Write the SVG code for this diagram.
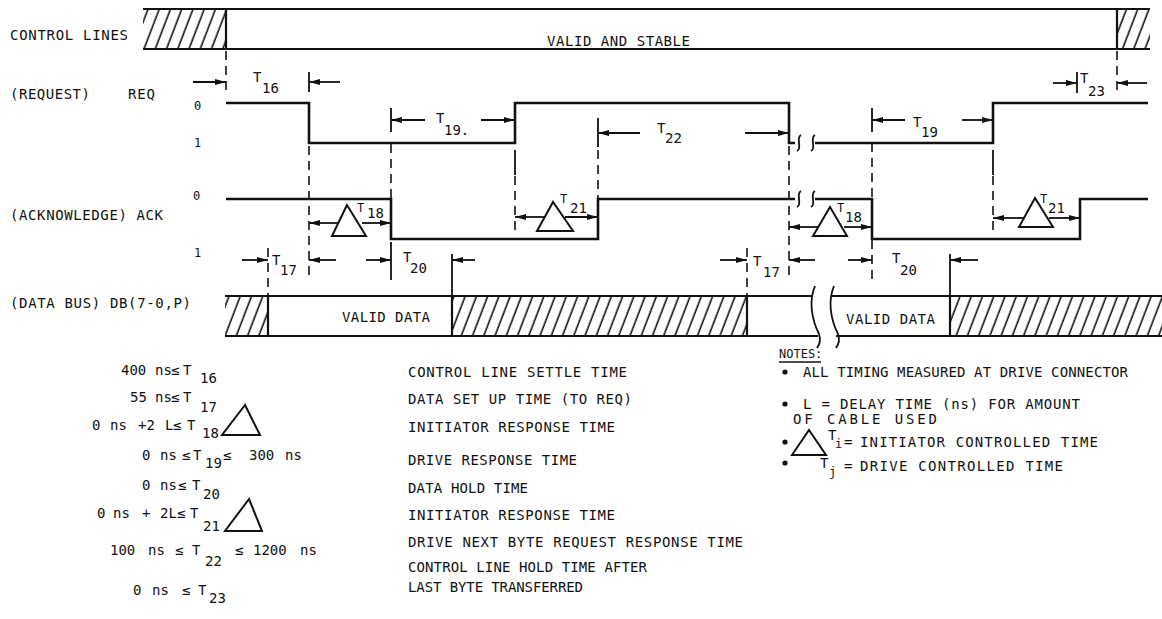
<svg xmlns="http://www.w3.org/2000/svg" width="1162" height="619" viewBox="0 0 1162 619">
<style>
text{font-family:"DejaVu Sans Mono","Liberation Mono",monospace;font-size:14px;fill:#111}
.sm{font-size:12px}
.w{fill:none;stroke:#111;stroke-width:2.6;stroke-linejoin:miter}
.bar{fill:none;stroke:#111;stroke-width:2.2}
.d{fill:none;stroke:#111;stroke-width:1.6;stroke-dasharray:9 6}
.t{fill:none;stroke:#111;stroke-width:1.8}
.a{fill:none;stroke:#111;stroke-width:1.8;marker-end:url(#ah)}
.tri{fill:#fff;stroke:#111;stroke-width:2}
.sq{fill:none;stroke:#111;stroke-width:1.8}
</style>
<defs>
<marker id="ah" markerUnits="userSpaceOnUse" markerWidth="12" markerHeight="8" refX="11" refY="3.5" orient="auto">
<path d="M0,0.5 L11,3.5 L0,6.5 z" fill="#111"/>
</marker>
<pattern id="hatch" patternUnits="userSpaceOnUse" width="10.5" height="10" patternTransform="rotate(21)">
<line x1="5" y1="-2" x2="5" y2="12" stroke="#111" stroke-width="1.6"/>
</pattern>
</defs>
<rect width="1162" height="619" fill="#fff"/>

<g id="control-lines">
<text x="10" y="40" textLength="118" lengthAdjust="spacing">CONTROL LINES</text>
<rect x="143" y="9" width="83" height="40" fill="url(#hatch)"/>
<rect x="1117" y="9" width="33" height="40" fill="url(#hatch)"/>
<path class="bar" d="M143,9 H1150 M143,49 H1150 M226,9 V49 M1117,9 V49"/>
<text x="547" y="46" textLength="143" lengthAdjust="spacing">VALID AND STABLE</text>
</g>

<g id="req">
<text x="10" y="99" textLength="80" lengthAdjust="spacing">(REQUEST)</text>
<text x="128" y="99" textLength="27" lengthAdjust="spacing">REQ</text>
<text class="sm" x="194" y="110">0</text>
<text class="sm" x="194" y="147">1</text>
<path class="w" d="M226,103 H309 V143 H515 V103 H789 V143 H795 M815,143 H993 V103 H1148"/>
<path class="sq" d="M801,135 C795,138 803,148 797,151 M815,135 C809,138 817,148 811,151"/>
</g>

<g id="ack">
<text x="10" y="220" textLength="153" lengthAdjust="spacing">(ACKNOWLEDGE) ACK</text>
<text class="sm" x="193" y="200">0</text>
<text class="sm" x="194" y="257">1</text>
<path class="w" d="M226,199 H391 V239 H598 V199 H795 M815,199 H872 V239 H1080 V199 H1148"/>
<path class="sq" d="M801,191 C795,194 803,204 797,207 M815,191 C809,194 817,204 811,207"/>
</g>

<g id="data-bus">
<text x="10" y="308" textLength="181" lengthAdjust="spacing">(DATA BUS) DB(7-0,P)</text>
<rect x="225" y="296" width="43" height="40" fill="url(#hatch)"/>
<rect x="452" y="296" width="295" height="40" fill="url(#hatch)"/>
<rect x="950" y="296" width="212" height="40" fill="url(#hatch)"/>
<path class="bar" d="M225,296 H813 M225,336 H818 M832,296 H1162 M836,336 H1162 M268,296 V336 M452,296 V336 M747,296 V336 M950,296 V336"/>
<path class="sq" d="M815,286 C809,300 811,318 819,334 C821,340 820,344 817,348 M834,286 C828,300 830,318 838,334 C840,340 839,344 836,348"/>
<text x="342" y="322" textLength="88" lengthAdjust="spacing">VALID DATA</text>
<text x="846" y="324" textLength="89" lengthAdjust="spacing">VALID DATA</text>
</g>

<g id="connectors">
<path class="d" d="M226,51 V96 M309,146 V280 M391,144 V199 M515,176 V230 M598,150 V199 M789,146 V280 M872,143 V199 M872,240 V280 M993,176 V230 M1117,51 V96 M268,248 V296 M747,248 V296"/>
<path class="t" d="M309,72 V92 M391,108 V132 M515,150 V175 M598,118 V147 M872,108 V132 M993,150 V175 M1077,72 V93 M391,242 V280 M452,254 V296 M950,254 V296"/>
<line class="a" x1="193" y1="82" x2="226" y2="82"/>
<line class="a" x1="340" y1="82" x2="309" y2="82"/>
<line class="a" x1="425" y1="120" x2="391" y2="120"/>
<line class="a" x1="481" y1="120" x2="515" y2="120"/>
<line class="a" x1="640" y1="133" x2="598" y2="133"/>
<line class="a" x1="745" y1="133" x2="789" y2="133"/>
<line class="a" x1="905" y1="120" x2="872" y2="120"/>
<line class="a" x1="962" y1="120" x2="993" y2="120"/>
<line class="a" x1="1053" y1="83" x2="1077" y2="83"/>
<line class="a" x1="1147" y1="83" x2="1117" y2="83"/>
<line class="a" x1="338" y1="223" x2="309" y2="223"/>
<line class="a" x1="362" y1="223" x2="391" y2="223"/>
<line class="a" x1="545" y1="217" x2="515" y2="217"/>
<line class="a" x1="565" y1="217" x2="598" y2="217"/>
<line class="a" x1="818" y1="227" x2="789" y2="227"/>
<line class="a" x1="844" y1="227" x2="872" y2="227"/>
<line class="a" x1="1024" y1="218" x2="993" y2="218"/>
<line class="a" x1="1049" y1="218" x2="1080" y2="218"/>
<line class="a" x1="242" y1="260" x2="268" y2="260"/>
<line class="a" x1="336" y1="260" x2="309" y2="260"/>
<line class="a" x1="366" y1="260" x2="391" y2="260"/>
<line class="a" x1="475" y1="260" x2="452" y2="260"/>
<line class="a" x1="720" y1="260" x2="747" y2="260"/>
<line class="a" x1="815" y1="260" x2="789" y2="260"/>
<line class="a" x1="848" y1="260" x2="872" y2="260"/>
<line class="a" x1="978" y1="260" x2="950" y2="260"/>
</g>

<g id="timing-labels">
<text x="253" y="82">T</text><text x="262" y="93">16</text>
<text x="436" y="123">T</text><text x="444" y="135">19.</text>
<text x="657" y="133">T</text><text x="665" y="143">22</text>
<text x="913" y="127">T</text><text x="921" y="137">19</text>
<text x="1080" y="83">T</text><text x="1088" y="96">23</text>
<text x="272" y="265">T</text><text x="280" y="275">17</text>
<text x="403" y="262">T</text><text x="410" y="273">20</text>
<text x="753" y="266">T</text><text x="763" y="277">17</text>
<text x="892" y="263">T</text><text x="900" y="275">20</text>
<polygon class="tri" points="347,205 332,236 366,236"/>
<text class="sm" x="357" y="212">T</text><text x="367" y="218">18</text>
<polygon class="tri" points="553,202 537,231 573,231"/>
<text class="sm" x="560" y="203">T</text><text x="570" y="213">21</text>
<polygon class="tri" points="830,207 813,236 847,236"/>
<text class="sm" x="837" y="212">T</text><text x="845" y="222">18</text>
<polygon class="tri" points="1035,198 1019,227 1053,227"/>
<text class="sm" x="1040" y="203">T</text><text x="1048" y="213">21</text>
</g>

<g id="formulas">
<text y="375"><tspan x="121">400</tspan><tspan x="155">ns</tspan><tspan x="171">≤</tspan><tspan x="183">T</tspan><tspan x="200" y="383">16</tspan></text>
<text y="402"><tspan x="130">55</tspan><tspan x="155">ns</tspan><tspan x="171">≤</tspan><tspan x="183">T</tspan><tspan x="200" y="412">17</tspan></text>
<text y="430"><tspan x="92">0</tspan><tspan x="110">ns</tspan><tspan x="138">+2</tspan><tspan x="165">L</tspan><tspan x="173">≤</tspan><tspan x="187">T</tspan><tspan x="202" y="438">18</tspan></text>
<polygon class="tri" points="245,405 222,435 260,435"/>
<text y="460"><tspan x="142">0</tspan><tspan x="160">ns</tspan><tspan x="182">≤</tspan><tspan x="193">T</tspan><tspan x="205" y="468">19</tspan><tspan x="223" y="460">≤</tspan><tspan x="249">300</tspan><tspan x="285">ns</tspan></text>
<text y="490"><tspan x="142">0</tspan><tspan x="160">ns</tspan><tspan x="178">≤</tspan><tspan x="192">T</tspan><tspan x="203" y="499">20</tspan></text>
<text y="518"><tspan x="97">0</tspan><tspan x="113">ns</tspan><tspan x="142">+</tspan><tspan x="160">2L</tspan><tspan x="177">≤</tspan><tspan x="190">T</tspan><tspan x="203" y="531">21</tspan></text>
<polygon class="tri" points="249,499 225,531 262,531"/>
<text y="555"><tspan x="110">100</tspan><tspan x="148">ns</tspan><tspan x="175">≤</tspan><tspan x="192">T</tspan><tspan x="205" y="566">22</tspan><tspan x="235" y="555">≤</tspan><tspan x="253">1200</tspan><tspan x="300">ns</tspan></text>
<text y="595"><tspan x="133">0</tspan><tspan x="152">ns</tspan><tspan x="182">≤</tspan><tspan x="198">T</tspan><tspan x="209" y="603">23</tspan></text>
</g>

<g id="descriptions">
<text x="408" y="377" textLength="219" lengthAdjust="spacing">CONTROL LINE SETTLE TIME</text>
<text x="408" y="404" textLength="224" lengthAdjust="spacing">DATA SET UP TIME (TO REQ)</text>
<text x="408" y="432" textLength="207" lengthAdjust="spacing">INITIATOR RESPONSE TIME</text>
<text x="408" y="465" textLength="169" lengthAdjust="spacing">DRIVE RESPONSE TIME</text>
<text x="408" y="493" textLength="120" lengthAdjust="spacing">DATA HOLD TIME</text>
<text x="408" y="520" textLength="207" lengthAdjust="spacing">INITIATOR RESPONSE TIME</text>
<text x="408" y="547" textLength="335" lengthAdjust="spacing">DRIVE NEXT BYTE REQUEST RESPONSE TIME</text>
<text x="408" y="572" textLength="239" lengthAdjust="spacing">CONTROL LINE HOLD TIME AFTER</text>
<text x="408" y="592" textLength="175" lengthAdjust="spacing">LAST BYTE TRANSFERRED</text>
</g>

<g id="notes">
<text class="sm" x="779" y="358">NOTES:</text>
<line x1="779" y1="362" x2="821" y2="362" stroke="#111" stroke-width="1.5"/>
<circle cx="785" cy="372" r="2.6" fill="#111"/>
<text x="803" y="377" textLength="325" lengthAdjust="spacing">ALL TIMING MEASURED AT DRIVE CONNECTOR</text>
<circle cx="785" cy="404" r="2.6" fill="#111"/>
<text x="803" y="409" textLength="277" lengthAdjust="spacing">L = DELAY TIME (ns)  FOR AMOUNT</text>
<text x="793" y="424" textLength="144" lengthAdjust="spacing">OF CABLE USED</text>
<circle cx="785" cy="442" r="2.6" fill="#111"/>
<polygon class="tri" points="809,430 792,455 826,455"/>
<text x="828" y="440">T</text><text class="sm" x="835" y="448">i</text><text x="844" y="447">=</text>
<text x="860" y="447" textLength="238" lengthAdjust="spacing">INITIATOR CONTROLLED TIME</text>
<circle cx="785" cy="463" r="2.6" fill="#111"/>
<text x="820" y="468">T</text><text class="sm" x="829" y="476">j</text><text x="844" y="471">=</text>
<text x="860" y="471" textLength="203" lengthAdjust="spacing">DRIVE CONTROLLED TIME</text>
</g>
</svg>
